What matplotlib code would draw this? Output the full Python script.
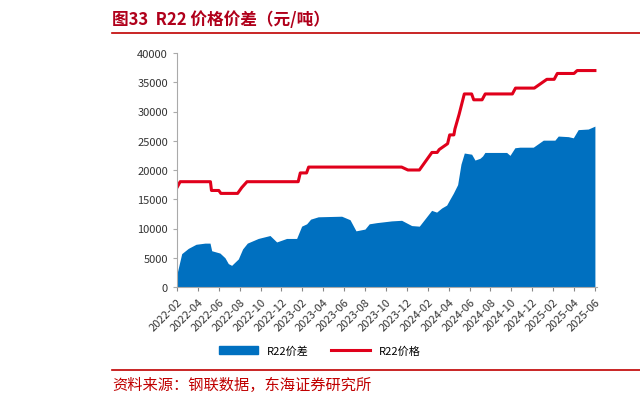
import matplotlib
matplotlib.use("Agg")
import matplotlib.pyplot as plt
from matplotlib.lines import Line2D
from matplotlib.patches import Patch

plt.rcParams['font.family'] = ['Noto Sans CJK SC', 'DejaVu Sans']

# months since 2022-02
spread_x = [0, 0.03, 0.45, 1.08, 1.82, 2.68, 3.16, 3.32, 4.11, 4.59, 4.91, 5.23, 5.87, 6.28, 6.73, 7.78, 8.9, 9.54,
            10.02, 10.49, 11.45, 11.93, 12.41, 12.79, 13.52, 15.76, 16.56, 17.13, 17.99, 18.4, 19.11, 20.54, 21.5,
            22.46, 23.19, 23.89, 24.37, 24.85, 25.33, 25.81, 26.12, 26.44, 26.86, 27.18, 27.5, 28.2, 28.52, 29.0,
            29.25, 29.47, 31.55, 31.87, 32.34, 32.82, 34.1, 35.06, 36.17, 36.49, 37.45, 37.93, 38.4, 39.36, 40]
spread_v = [2500, 2500, 5700, 6600, 7300, 7500, 7500, 6200, 5800, 5000, 4000, 3700, 4800, 6500, 7500, 8300, 8800, 7700,
            8000, 8300, 8300, 10400, 10800, 11600, 12000, 12100, 11500, 9600, 9900, 10800, 11000, 11300, 11400,
            10500, 10400, 12000, 13100, 12800, 13500, 14000, 15000, 16000, 17500, 21000, 22900, 22700, 21700, 22000,
            22400, 23000, 23000, 22500, 23800, 23900, 23900, 25100, 25100, 25800, 25700, 25500, 26900, 27000, 27500]
price_x = [0, 0.3, 3.2, 3.3, 4.0, 4.2, 5.8, 6.2, 6.7, 11.6, 11.8, 12.4, 12.6, 21.5, 22.1, 23.2, 24.4, 24.9, 25.1,
           25.5, 25.9, 26.1, 26.5, 26.6, 27.0, 27.5, 28.2, 28.4, 29.2, 29.5, 32.1, 32.4, 34.2, 35.0, 35.4, 36.1,
           36.4, 38.0, 38.3, 40]
price_v = [17000, 18000, 18000, 16500, 16500, 16000, 16000, 17000, 18000, 18000, 19500, 19500, 20500, 20500, 20000,
           20000, 23000, 23000, 23500, 24000, 24500, 26000, 26000, 27000, 29500, 33000, 33000, 32000, 32000, 33000,
           33000, 34000, 34000, 35000, 35500, 35500, 36500, 36500, 37000, 37000]
tick_labels = []
y, mo = 2022, 2
for i in range(41):
    if i % 2 == 0:
        tick_labels.append(f"{y}-{mo:02d}")
    mo += 1
    if mo > 12:
        mo = 1; y += 1

fig = plt.figure(figsize=(6.4, 4.06), dpi=100)
ax = fig.add_axes([177/640, 1-288/406, 420/640, 234/406])
ax.fill_between(spread_x, spread_v, 0, color='#0070C0', lw=0)
ax.plot(price_x, price_v, color='#E0001B', lw=2.2)
ax.set_xlim(0, 40.2)
ax.set_ylim(0, 40000)
ax.set_yticks(range(0, 40001, 5000))
ax.set_xticks(range(0, 41, 2))
ax.set_xticklabels(tick_labels, rotation=45, ha='right', rotation_mode='anchor')
ax.tick_params(labelsize=8, colors='#333333', length=3)
ax.tick_params(axis='x', colors='#888888', labelcolor='#333333')
for s in ['top', 'right']:
    ax.spines[s].set_visible(False)
for s in ['left', 'bottom']:
    ax.spines[s].set_color('#aaaaaa')
ax.tick_params(axis='y', colors='#aaaaaa', labelcolor='#333333')

fig.legend(handles=[Patch(color='#0070C0', label='R22价差'), Line2D([], [], color='#E0001B', lw=2.2, label='R22价格')],
           loc='center', bbox_to_anchor=(0.5, 1-352/406), ncol=2, frameon=False, fontsize=8, handlelength=3.5,
           columnspacing=2)
fig.text(112/640, 1-20/406, '图33  R22 价格价差（元/吨）', fontsize=12, fontweight='bold', color='#B0001B', va='center')
fig.add_artist(Line2D([112/640, 1], [1-34/406]*2, color='#C00000', lw=1.2))
fig.add_artist(Line2D([112/640, 1], [1-371/406]*2, color='#C00000', lw=1.2))
fig.text(112/640, 1-385/406, '资料来源：钢联数据，东海证券研究所', fontsize=11, color='#C00000', va='center')
fig.savefig('out.png', dpi=100)
